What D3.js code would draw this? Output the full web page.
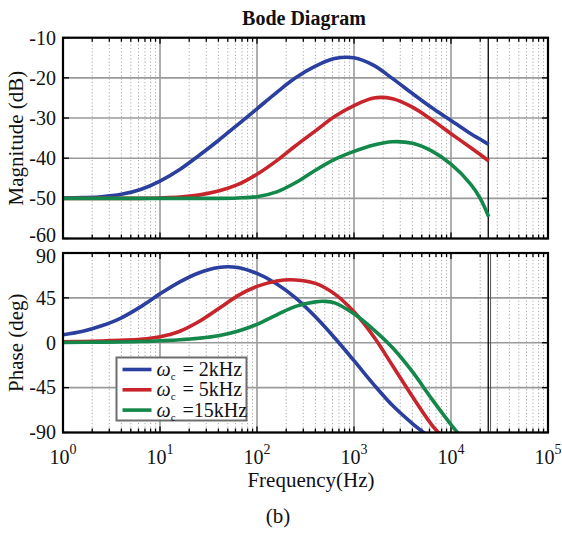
<!DOCTYPE html>
<html>
<head>
<meta charset="utf-8">
<script src="https://cdn.jsdelivr.net/npm/d3@7"></script>
<style>
  body { margin: 0; background: #fff; }
  svg text { font-family: 'Liberation Serif', 'Times New Roman', serif; fill: #111; }
</style>
</head>
<body>
<svg id="chart" width="562" height="533"></svg>
<script>
// magnitude samples (Hz / dB)
const magFreq = [1, 1.6, 2.5, 4, 6.3, 10, 16, 25, 40, 63, 100, 160, 250, 400, 630, 1000, 1600, 2500, 4000, 6300, 10000, 16000, 20000, 24500];
const magBlue = [-49.9, -49.8, -49.6, -49.0, -47.8, -45.7, -42.8, -39.4, -35.6, -31.7, -27.7, -23.6, -20.0, -17.1, -15.2, -15.0, -16.9, -20.2, -23.9, -27.4, -30.6, -33.9, -35.3, -36.6];
const magRed = [-50, -50, -50, -50, -50, -49.9, -49.7, -49.2, -48.2, -46.6, -44.0, -40.6, -36.9, -33.2, -29.6, -26.9, -25.0, -25.2, -27.3, -30.4, -33.9, -37.4, -39.1, -40.7];
const magGreen = [-50, -50, -50, -50, -50, -50, -50, -50, -50, -49.9, -49.6, -48.4, -46.1, -43.0, -40.3, -38.3, -36.7, -35.9, -36.3, -38.2, -41.5, -46.5, -50.0, -54.6];

// phase samples (Hz / deg)
const phFreqBlue = [1, 1.6, 2.5, 4, 6.3, 10, 16, 25, 40, 63, 100, 160, 250, 400, 630, 1000, 1600, 2500, 4000, 6300];
const phBlue = [8, 11.5, 17, 25, 36, 49, 61, 70, 75.5, 75.5, 69.5, 59, 45, 26, 5, -18, -42, -63, -81, -96];
const phFreqRed = [1, 1.6, 2.5, 4, 6.3, 10, 16, 25, 40, 63, 100, 160, 250, 400, 630, 1000, 1600, 2500, 4000, 6300, 10000];
const phRed = [1, 1.3, 1.8, 2.5, 3.5, 6, 11.5, 21, 34, 47, 56.5, 62, 63, 59.5, 49, 31, 6, -23, -54, -82, -104];
const phFreqGreen = [1, 2.5, 6.3, 10, 16, 25, 40, 63, 100, 160, 250, 400, 500, 630, 1000, 1600, 2500, 4000, 6300, 10000, 16000];
const phGreen = [0.3, 0.6, 1.2, 2, 3, 4.5, 7, 11.5, 18.5, 28, 36.5, 41, 41.5, 40, 29, 13, -5, -29, -56, -82, -106];

const legendLabels = ['= 2kHz', '= 5kHz', '=15kHz'];
const seriesColors = ['#2b3f9e', '#c8242b', '#14874a'];
const magTicks = [-10, -20, -30, -40, -50, -60];
const phTicks = [90, 45, 0, -45, -90];
const decades = [1, 10, 100, 1000, 10000, 100000];
const nyquist = 24500;

const svg = d3.select('#chart');

const left = 63, right = 548;
const x = d3.scaleLog().domain([1, 1e5]).range([left, right]);
const yMag = d3.scaleLinear().domain([-60, -10]).range([238.5, 37.7]);
const yPh = d3.scaleLinear().domain([-90, 90]).range([432.5, 253]);

const minor = [];
for (let d = 0; d < 5; d++) {
  for (let k = 2; k < 10; k++) {
    minor.push(k * Math.pow(10, d));
  }
}

// tick labels at the shared edge are nudged apart, as in the original
function labelShift (d, phase) {
  if (!phase && d === -60) return 3;
  if (phase && d === 90) return 10;
  return 6.8;
}

function drawPanel (y, ticks, id, series, phase) {
  const top = y.range()[1], bottom = y.range()[0];
  const g = svg.append('g');

  svg.append('clipPath').attr('id', id)
    .append('rect')
    .attr('x', left).attr('y', top)
    .attr('width', right - left).attr('height', bottom - top);

  // grid
  g.selectAll('.minor').data(minor).enter().append('line')
    .attr('x1', d => x(d)).attr('x2', d => x(d))
    .attr('y1', top).attr('y2', bottom)
    .attr('stroke', '#a8a8a8').attr('stroke-width', 1)
    .attr('stroke-dasharray', '1.2,2.2');
  g.selectAll('.hgrid').data(ticks).enter().append('line')
    .attr('x1', left).attr('x2', right)
    .attr('y1', d => y(d)).attr('y2', d => y(d))
    .attr('stroke', '#9a9a9a').attr('stroke-width', 1.6);
  g.selectAll('.vgrid').data(decades).enter().append('line')
    .attr('x1', d => x(d)).attr('x2', d => x(d))
    .attr('y1', top).attr('y2', bottom)
    .attr('stroke', '#9a9a9a').attr('stroke-width', 1.6);

  // nyquist marker
  g.append('line')
    .attr('x1', x(nyquist) - 0.5).attr('x2', x(nyquist) - 0.5)
    .attr('y1', top).attr('y2', bottom)
    .attr('stroke', '#000').attr('stroke-width', 1.3);
  if (phase) {
    g.append('line')
      .attr('x1', x(nyquist) + 1.8).attr('x2', x(nyquist) + 1.8)
      .attr('y1', top).attr('y2', bottom)
      .attr('stroke', '#555').attr('stroke-width', 1);
  }

  // inward ticks
  const tk = g.append('g').attr('stroke', '#000').attr('stroke-width', 1.3);
  minor.forEach(function (d) {
    tk.append('line').attr('x1', x(d)).attr('x2', x(d)).attr('y1', top).attr('y2', top + 4);
    tk.append('line').attr('x1', x(d)).attr('x2', x(d)).attr('y1', bottom).attr('y2', bottom - 4);
  });
  decades.forEach(function (d) {
    tk.append('line').attr('x1', x(d)).attr('x2', x(d)).attr('y1', top).attr('y2', top + 6);
    tk.append('line').attr('x1', x(d)).attr('x2', x(d)).attr('y1', bottom).attr('y2', bottom - 6);
  });
  ticks.forEach(function (d) {
    tk.append('line').attr('x1', left).attr('x2', left + 6).attr('y1', y(d)).attr('y2', y(d));
    tk.append('line').attr('x1', right).attr('x2', right - 6).attr('y1', y(d)).attr('y2', y(d));
  });

  // curves
  const line = d3.line()
    .x(d => x(d[0]))
    .y(d => y(d[1]))
    .curve(d3.curveCatmullRom.alpha(0.5));
  const curves = g.append('g').attr('clip-path', 'url(#' + id + ')');
  series.forEach(function (s, i) {
    curves.append('path')
      .datum(s.f.map((f, j) => [f, s.v[j]]))
      .attr('fill', 'none')
      .attr('stroke', seriesColors[i])
      .attr('stroke-width', 3.6)
      .attr('d', line);
  });

  // frame
  g.append('rect')
    .attr('x', left).attr('y', top)
    .attr('width', right - left).attr('height', bottom - top)
    .attr('fill', 'none').attr('stroke', '#000').attr('stroke-width', 2.2);

  // y tick labels
  g.selectAll('.ylab').data(ticks).enter().append('text')
    .attr('x', left - 7).attr('y', d => y(d) + labelShift(d, phase))
    .attr('text-anchor', 'end')
    .style('font-size', '20px')
    .text(d => String(d));
  return g;
}

drawPanel(yMag, magTicks, 'clipMag', [
  { f: magFreq, v: magBlue },
  { f: magFreq, v: magRed },
  { f: magFreq, v: magGreen }
], false);

drawPanel(yPh, phTicks, 'clipPh', [
  { f: phFreqBlue, v: phBlue },
  { f: phFreqRed, v: phRed },
  { f: phFreqGreen, v: phGreen }
], true);

// x tick labels
decades.forEach(function (d, i) {
  const t = svg.append('text')
    .attr('x', x(d)).attr('y', 464)
    .attr('text-anchor', 'middle')
    .style('font-size', '20px');
  t.append('tspan').text('10');
  t.append('tspan').attr('dy', -10).style('font-size', '14px').text(String(i));
});

// titles
svg.append('text')
  .attr('x', 304).attr('y', 25)
  .attr('text-anchor', 'middle')
  .style('font-size', '20px').style('font-weight', 'bold')
  .text('Bode Diagram');
svg.append('text')
  .attr('transform', 'translate(23,' + ((yMag.range()[0] + yMag.range()[1]) / 2) + ') rotate(-90)')
  .attr('text-anchor', 'middle')
  .style('font-size', '21px')
  .text('Magnitude (dB)');
svg.append('text')
  .attr('transform', 'translate(23,' + ((yPh.range()[0] + yPh.range()[1]) / 2) + ') rotate(-90)')
  .attr('text-anchor', 'middle')
  .style('font-size', '21px')
  .text('Phase (deg)');
svg.append('text')
  .attr('x', 311).attr('y', 487)
  .attr('text-anchor', 'middle')
  .style('font-size', '21px')
  .text('Frequency(Hz)');
svg.append('text')
  .attr('x', 278).attr('y', 523)
  .attr('text-anchor', 'middle')
  .style('font-size', '21px')
  .text('(b)');

// legend
const lg = svg.append('g').attr('transform', 'translate(116.5,357.5)');
lg.append('rect')
  .attr('width', 130).attr('height', 63)
  .attr('fill', '#fff').attr('stroke', '#6e6e6e').attr('stroke-width', 2);
legendLabels.forEach(function (lab, i) {
  const ly = 12 + i * 20.3;
  lg.append('line')
    .attr('x1', 6).attr('x2', 35).attr('y1', ly).attr('y2', ly)
    .attr('stroke', seriesColors[i]).attr('stroke-width', 3.6);
  const t = lg.append('text')
    .attr('x', 40).attr('y', ly + 6.5)
    .style('font-size', '20px');
  t.append('tspan').style('font-style', 'italic').text('\u03c9');
  t.append('tspan').attr('dy', 4).style('font-size', '11px').text('c');
  t.append('tspan').attr('x', 66).attr('dy', -4).text(lab);
});
</script>
</body>
</html>
